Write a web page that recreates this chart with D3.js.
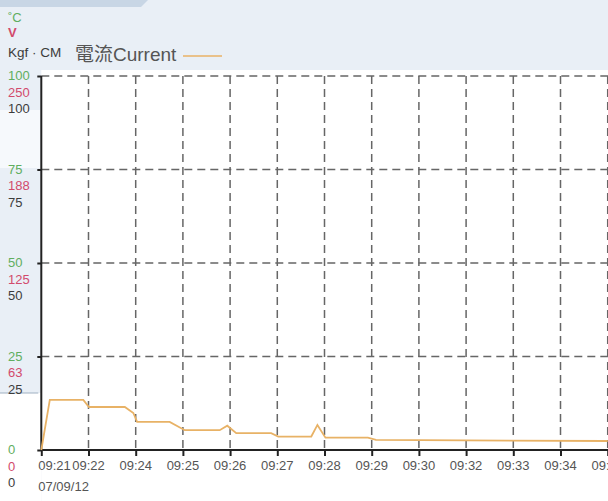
<!DOCTYPE html>
<html>
<head>
<meta charset="utf-8">
<script src="https://cdn.jsdelivr.net/npm/d3@7/dist/d3.min.js"></script>
<style>
  html, body { margin: 0; padding: 0; background: #e9eff6; }
  svg { display: block; font-family: "Liberation Sans", Arial, sans-serif; }
</style>
</head>
<body>
<svg id="chart" width="608" height="501"></svg>
<script>
// Sample times shown along the time axis (one per grid column)
const timeLabels = ["09:21", "09:22", "09:24", "09:25", "09:26", "09:27", "09:28",
                    "09:29", "09:30", "09:32", "09:33", "09:34", "09:35"];
const dateLabel = "07/09/12";

// Three stacked value scales sharing the same gridlines
const tempTicks = [0, 25, 50, 75, 100];      // °C
const voltTicks = [0, 63, 125, 188, 250];    // V
const torqueTicks = [0, 25, 50, 75, 100];    // Kgf · CM

// Current trace: position along the time axis (in sample columns) and value (0–100 scale)
const currentT = [0, 0.18, 0.89, 1.01, 1.77, 1.95, 2.03, 2.72, 3.04, 3.78, 3.94, 4.13,
                  4.87, 5.02, 5.72, 5.85, 6.02, 6.92, 7.09, 12.0];
const currentV = [0, 13.4, 13.4, 11.5, 11.5, 9.9, 7.5, 7.5, 5.3, 5.3, 6.5, 4.5,
                  4.5, 3.6, 3.6, 6.7, 3.3, 3.3, 2.7, 2.4];

const colors = { temp: "#5fae5f", volt: "#d24a6c", torque: "#3c3c3c", current: "#e8b266" };

const svg = d3.select("#chart");
const W = 608, H = 501;
const plotLeft = 41.3, plotRight = 608, plotTop = 76, plotBottom = 450;

// Page panels
svg.append("rect").attr("x", 0).attr("y", 0).attr("width", W).attr("height", H).attr("fill", "#e9eff6");
svg.append("polygon").attr("points", "0,0 148,0 141,7 0,7").attr("fill", "#c8d6e5");
svg.append("rect").attr("x", plotLeft).attr("y", 70).attr("width", W - plotLeft).attr("height", H - 70).attr("fill", "#ffffff");
svg.append("rect").attr("x", 0).attr("y", 110).attr("width", plotLeft).attr("height", 58).attr("fill", "#f6f9fc");
svg.append("rect").attr("x", 0).attr("y", 393).attr("width", plotLeft).attr("height", H - 393).attr("fill", "#ffffff");
svg.append("line").attr("x1", 0).attr("x2", plotLeft - 3).attr("y1", 393).attr("y2", 393)
   .attr("stroke", "#9fb0c2").attr("stroke-width", 1);

const x = d3.scaleLinear().domain([0, timeLabels.length - 1]).range([plotLeft, plotLeft + 47.2 * 12]);
const y = d3.scaleLinear().domain([0, 100]).range([plotBottom, plotTop]);

// Dashed grid
const grid = svg.append("g").attr("stroke", "#666").attr("stroke-width", 1.5).attr("stroke-dasharray", "8,5");
grid.selectAll("line.h").data(tempTicks.filter(d => d > 0)).join("line").attr("class", "h")
  .attr("x1", plotLeft).attr("x2", plotRight).attr("y1", d => y(d)).attr("y2", d => y(d));
grid.selectAll("line.v").data(d3.range(1, timeLabels.length)).join("line").attr("class", "v")
  .attr("x1", d => x(d)).attr("x2", d => x(d)).attr("y1", plotTop).attr("y2", plotBottom);

// Axes
const xAxis = d3.axisBottom(x).tickValues(d3.range(timeLabels.length)).tickSize(6).tickFormat("");
svg.append("g").attr("transform", `translate(0,${plotBottom})`).call(xAxis)
  .call(g => g.select(".domain").attr("stroke", "#222").attr("stroke-width", 2).attr("d", `M${plotLeft},0H${plotRight}`))
  .call(g => g.selectAll(".tick line").attr("stroke", "#222").attr("stroke-width", 2));

const yAxis = d3.axisLeft(y).tickValues(tempTicks).tickSize(4).tickFormat("");
svg.append("g").attr("transform", `translate(${plotLeft},0)`).call(yAxis)
  .call(g => g.select(".domain").attr("stroke", "#222").attr("stroke-width", 2).attr("d", `M0,${plotTop}V${plotBottom}`))
  .call(g => g.selectAll(".tick line").attr("stroke", "#222").attr("stroke-width", 2));

// Time labels (the last one runs off the right edge)
svg.append("g").selectAll("text").data(timeLabels).join("text")
  .attr("x", (d, i) => i === 0 ? plotLeft - 3 : x(i))
  .attr("y", 467)
  .attr("text-anchor", (d, i) => i === 0 ? "start" : "middle")
  .attr("dominant-baseline", "middle")
  .attr("font-size", 13).attr("fill", "#555")
  .text(d => d);
svg.append("text").attr("x", plotLeft - 3).attr("y", 488).attr("dominant-baseline", "middle")
  .attr("font-size", 13).attr("fill", "#555").text(dateLabel);

// Stacked value labels
const stacks = [
  { ticks: tempTicks, color: colors.temp, dy: 1 },
  { ticks: voltTicks, color: colors.volt, dy: 17.5 },
  { ticks: torqueTicks, color: colors.torque, dy: 34 }
];
stacks.forEach(s => {
  svg.append("g").selectAll("text").data(s.ticks).join("text")
    .attr("x", 8).attr("y", (d, i) => y(tempTicks[i]) + s.dy)
    .attr("dominant-baseline", "middle")
    .attr("font-size", 13).attr("fill", s.color)
    .text(d => d);
});

// Unit captions
svg.append("text").attr("x", 8).attr("y", 19).attr("dominant-baseline", "middle")
  .attr("font-size", 13).attr("fill", colors.temp).text("˚C");
svg.append("text").attr("x", 8).attr("y", 34).attr("dominant-baseline", "middle")
  .attr("font-size", 13).attr("font-weight", "bold").attr("fill", colors.volt).text("V");
svg.append("text").attr("x", 8).attr("y", 53).attr("dominant-baseline", "middle")
  .attr("font-size", 13.5).attr("fill", colors.torque).text("Kgf · CM");

// Legend
svg.append("text").attr("x", 75).attr("y", 56).attr("dominant-baseline", "middle")
  .attr("font-size", 19).attr("fill", "#555")
  .style("font-family", "'Liberation Sans', 'Noto Sans CJK TC', sans-serif")
  .text("電流Current");
svg.append("line").attr("x1", 183).attr("x2", 222).attr("y1", 56).attr("y2", 56)
  .attr("stroke", colors.current).attr("stroke-width", 1.5);

// Current trace
const pts = currentT.map((t, i) => [t, currentV[i]]);
svg.append("path").datum(pts)
  .attr("fill", "none").attr("stroke", colors.current).attr("stroke-width", 1.8)
  .attr("d", d3.line().x(d => x(d[0])).y(d => y(d[1])));
</script>
</body>
</html>
